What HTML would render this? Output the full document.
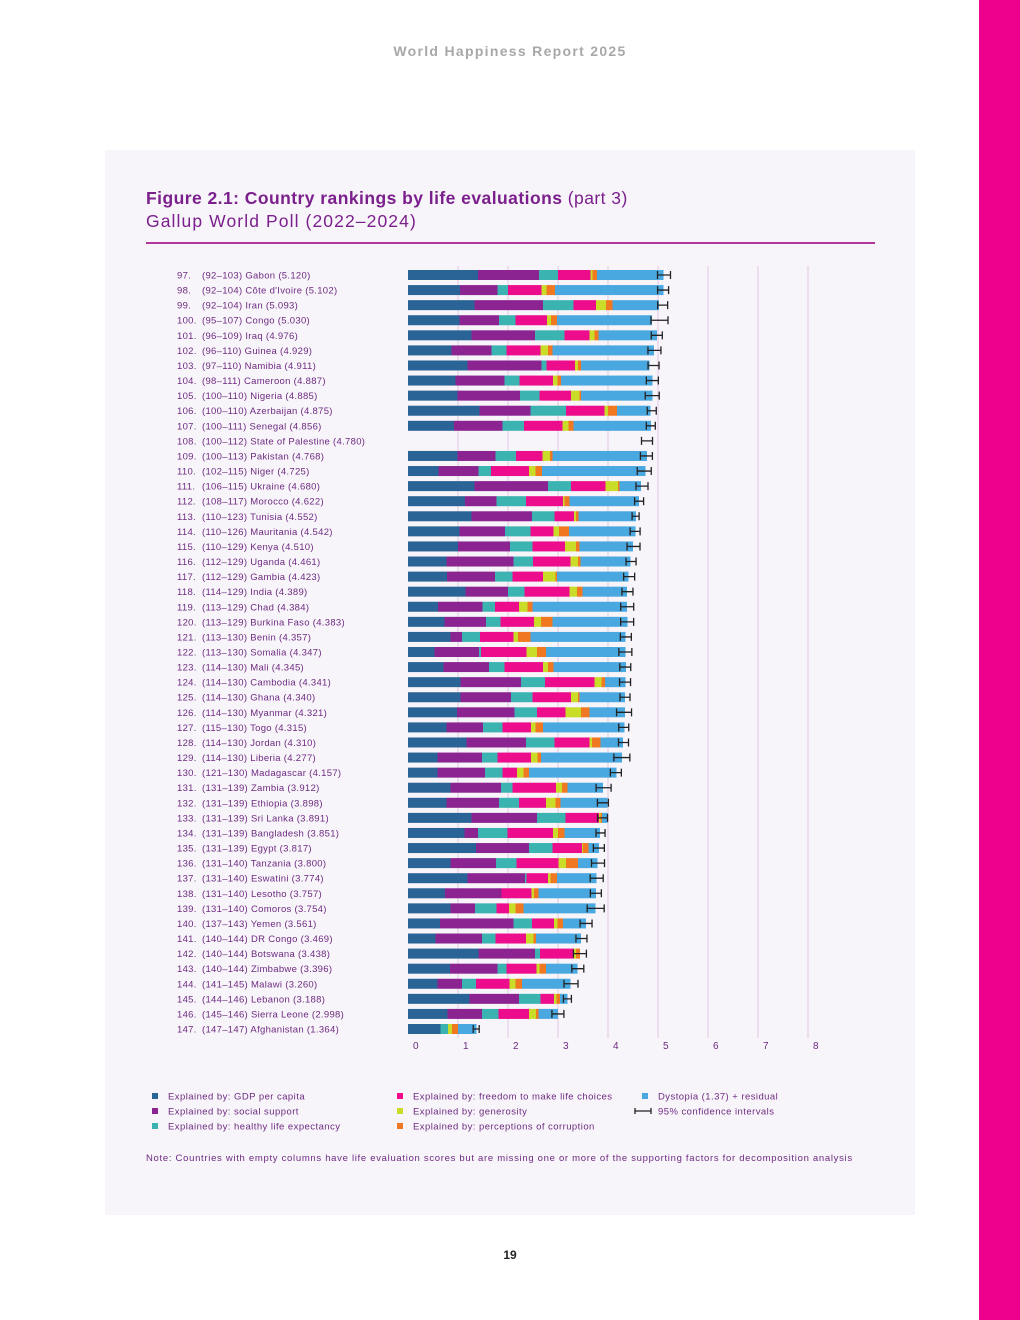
<!DOCTYPE html>
<html><head><meta charset="utf-8"><style>
body{margin:0;width:1020px;height:1320px;background:#fff;position:relative;overflow:hidden;font-family:"Liberation Sans",sans-serif}
.abs{position:absolute}
</style></head><body>
<div class="abs" style="left:979px;top:0;width:41px;height:1320px;background:#ec008c"></div>
<div class="abs" style="left:0;width:1020px;top:43px;text-align:center;color:#a8a8a8;font-size:14px;font-weight:bold;letter-spacing:1.3px">World Happiness Report 2025</div>
<div class="abs" style="left:105px;top:150px;width:810px;height:1065px;background:#f7f5fa"></div>
<div class="abs" style="left:146px;top:188px;font-size:17.5px;color:#7b1f8c;letter-spacing:0.45px;white-space:nowrap"><b>Figure 2.1: Country rankings by life evaluations</b> (part 3)</div>
<div class="abs" style="left:146px;top:211px;font-size:17.5px;color:#7b1f8c;letter-spacing:1.1px;white-space:nowrap">Gallup World Poll (2022–2024)</div>
<div class="abs" style="left:146px;top:242px;width:729px;height:2px;background:#b0369a"></div>
<svg class="abs" id="chart" style="left:0;top:0" width="1020" height="1320"></svg>
<div class="abs" style="left:0;width:1020px;top:1248px;text-align:center;font-size:12px;font-weight:bold;color:#222">19</div>
<script>
const ranks=[97,98,99,100,101,102,103,104,105,106,107,108,109,110,111,112,113,114,115,116,117,118,119,120,121,122,123,124,125,126,127,128,129,130,131,132,133,134,135,136,137,138,139,140,141,142,143,144,145,146,147];
const ranges=["92–103","92–104","92–104","95–107","96–109","96–110","97–110","98–111","100–110","100–110","100–111","100–112","100–113","102–115","106–115","108–117","110–123","110–126","110–129","112–129","112–129","114–129","113–129","113–129","113–130","113–130","114–130","114–130","114–130","114–130","115–130","114–130","114–130","121–130","131–139","131–139","131–139","131–139","131–139","131–140","131–140","131–140","131–140","137–143","140–144","140–144","140–144","141–145","144–146","145–146","147–147"];
const countries=["Gabon","Côte d'Ivoire","Iran","Congo","Iraq","Guinea","Namibia","Cameroon","Nigeria","Azerbaijan","Senegal","State of Palestine","Pakistan","Niger","Ukraine","Morocco","Tunisia","Mauritania","Kenya","Uganda","Gambia","India","Chad","Burkina Faso","Benin","Somalia","Mali","Cambodia","Ghana","Myanmar","Togo","Jordan","Liberia","Madagascar","Zambia","Ethiopia","Sri Lanka","Bangladesh","Egypt","Tanzania","Eswatini","Lesotho","Comoros","Yemen","DR Congo","Botswana","Zimbabwe","Malawi","Lebanon","Sierra Leone","Afghanistan"];
const scores=[5.120,5.102,5.093,5.030,4.976,4.929,4.911,4.887,4.885,4.875,4.856,4.780,4.768,4.725,4.680,4.622,4.552,4.542,4.510,4.461,4.423,4.389,4.384,4.383,4.357,4.347,4.345,4.341,4.340,4.321,4.315,4.310,4.277,4.157,3.912,3.898,3.891,3.851,3.817,3.800,3.774,3.757,3.754,3.561,3.469,3.438,3.396,3.260,3.188,2.998,1.364];
const gdp=[1.40,1.04,1.33,1.03,1.27,0.87,1.19,0.95,0.99,1.43,0.92,0,0.99,0.61,1.33,1.14,1.27,1.03,1.00,0.77,0.78,1.15,0.60,0.73,0.85,0.53,0.71,1.05,1.05,0.98,0.77,1.17,0.59,0.59,0.85,0.77,1.27,1.13,1.36,0.85,1.19,0.74,0.85,0.64,0.55,1.41,0.84,0.59,1.23,0.79,0.65];
const social=[1.22,0.75,1.37,0.79,1.27,0.80,1.48,0.98,1.25,1.02,0.97,0,0.76,0.80,1.47,0.63,1.21,0.91,1.04,1.34,0.96,0.85,0.89,0.83,0.23,0.89,0.91,1.21,1.01,1.15,0.73,1.19,0.89,0.95,1.01,1.05,1.31,0.27,1.06,0.91,1.15,1.13,0.49,1.47,0.93,1.13,0.95,0.49,0.99,0.69,0];
const health=[0.38,0.21,0.61,0.33,0.59,0.30,0.10,0.30,0.39,0.71,0.43,0,0.41,0.25,0.46,0.59,0.45,0.51,0.45,0.39,0.35,0.33,0.25,0.29,0.36,0.04,0.31,0.48,0.43,0.45,0.39,0.57,0.31,0.35,0.23,0.40,0.57,0.59,0.47,0.41,0.03,0,0.43,0.37,0.27,0.10,0.18,0.28,0.43,0.33,0.15];
const freedom=[0.65,0.67,0.45,0.63,0.50,0.68,0.57,0.67,0.63,0.77,0.77,0,0.53,0.76,0.69,0.74,0.39,0.46,0.65,0.75,0.61,0.90,0.48,0.67,0.67,0.91,0.77,0.99,0.77,0.57,0.57,0.70,0.67,0.29,0.87,0.54,0.67,0.91,0.59,0.84,0.43,0.60,0.25,0.44,0.61,0.68,0.60,0.67,0.27,0.61,0];
const generosity=[0.04,0.10,0.20,0.08,0.10,0.15,0.06,0.09,0.17,0.07,0.12,0,0.15,0.13,0.25,0.03,0.04,0.11,0.22,0.15,0.25,0.15,0.17,0.14,0.09,0.21,0.10,0.14,0.14,0.31,0.09,0.05,0.13,0.13,0.12,0.19,0.03,0.10,0.02,0.15,0.05,0.05,0.13,0.07,0.15,0.04,0.06,0.12,0.05,0.14,0.08];
const corruption=[0.09,0.17,0.13,0.12,0.08,0.09,0.06,0.07,0.03,0.18,0.10,0,0.05,0.13,0.03,0.10,0.05,0.20,0.07,0.05,0.03,0.11,0.10,0.23,0.25,0.18,0.11,0.07,0.03,0.17,0.15,0.17,0.07,0.11,0.11,0.10,0.03,0.13,0.11,0.24,0.13,0.09,0.16,0.11,0.05,0.08,0.13,0.13,0.07,0.05,0.12];
const dystopia=[1.33,2.17,0.93,1.90,1.17,2.03,1.37,1.83,1.43,0.67,1.55,0,1.89,2.07,0.43,1.39,1.15,1.33,1.07,1.00,1.43,0.89,1.89,1.50,1.90,1.59,1.45,0.41,0.91,0.71,1.63,0.45,1.62,1.75,0.71,0.94,0.11,0.71,0.21,0.39,0.79,1.15,1.44,0.46,0.90,0,0.63,0.97,0.15,0.39,0.37];
const ciHalf=[0.13,0.11,0.10,0.17,0.11,0.13,0.11,0.12,0.14,0.09,0.09,0.11,0.12,0.14,0.12,0.09,0.07,0.10,0.13,0.10,0.11,0.11,0.13,0.13,0.11,0.13,0.11,0.11,0.10,0.15,0.10,0.10,0.16,0.11,0.15,0.11,0.10,0.09,0.11,0.13,0.13,0.11,0.17,0.12,0.11,0.13,0.12,0.14,0.08,0.12,0.06];
const ticks=[0,1,2,3,4,5,6,7,8];
const series=[gdp,social,health,freedom,generosity,corruption,dystopia];
const seriesNames=["gdp","social-support","health","freedom","generosity","corruption","dystopia"];
const colors=["#2a6496","#8b2390","#3bb3b0","#ec0c8c","#c8dc28","#f07820","#4aa8e0"];
const legendText=["Explained by: GDP per capita","Explained by: social support","Explained by: healthy life expectancy","Explained by: freedom to make life choices","Explained by: generosity","Explained by: perceptions of corruption","Dystopia (1.37) + residual"];

const NS="http://www.w3.org/2000/svg";
const svg=document.getElementById('chart');
const X0=408, UNIT=50, Y0=275, ROW=15.08, BH=10;
const xs=v=>X0+v*UNIT;
const ys=i=>Y0+i*ROW;
function mk(t,a){const e=document.createElementNS(NS,t);for(const k in a)e.setAttribute(k,a[k]);svg.appendChild(e);return e;}
const TXT="#6e2a80";
ticks.forEach(t=>{
  if(t>0){const g=mk('line',{x1:xs(t),x2:xs(t),y1:266,y2:1038,stroke:'#e2c8e2','stroke-width':1});
  
  }
  const l=mk('text',{x:xs(t)+5,y:1049,'font-size':10,fill:TXT,'text-anchor':'start'});
  l.textContent=t;
  
  
});
ranks.forEach((r,i)=>{
  const y=ys(i);
  const a=mk('text',{x:177,y:y+3.5,'font-size':9.5,fill:TXT,'letter-spacing':0.3});
  a.textContent=r+'.';
  
  
  const b=mk('text',{x:202,y:y+3.5,'font-size':9.5,fill:TXT,'letter-spacing':0.3});
  b.textContent='('+ranges[i]+') '+countries[i]+' ('+scores[i].toFixed(3)+')';
  
  
  let c=0;
  series.forEach((s,k)=>{
    const v=s[i]; if(v<=0)return;
    const rc=mk('rect',{x:xs(c),y:y-BH/2,width:v*UNIT,height:BH,fill:colors[k]});
    
    
    c+=v;
  });
  const lo=xs(scores[i]-ciHalf[i]),hi=xs(scores[i]+ciHalf[i]);
  const ci=mk('path',{d:`M${lo},${y-4}V${y+4}M${hi},${y-4}V${y+4}M${lo},${y}H${hi}`,stroke:'#222','stroke-width':1.3,fill:'none'});
  
  
});
const lx=[152,152,152,397,397,397,642], ly=[1096,1111,1126,1096,1111,1126,1096];
legendText.forEach((t,k)=>{
  const s=mk('rect',{x:lx[k],y:ly[k]-3,width:6,height:6,fill:colors[k]});
  
  
  const tx=mk('text',{x:lx[k]+16,y:ly[k]+3.5,'font-size':9.5,fill:TXT,'letter-spacing':0.45});
  tx.textContent=t;
  
  
});
const cl=mk('path',{d:'M635,1108V1114M651,1108V1114M635,1111H651',stroke:'#222','stroke-width':1.3});


const ct=mk('text',{x:658,y:1114.5,'font-size':9.5,fill:TXT,'letter-spacing':0.45});
ct.textContent='95% confidence intervals';


const note=mk('text',{x:146,y:1161,'font-size':9.5,fill:TXT,'letter-spacing':0.7});
note.textContent='Note: Countries with empty columns have life evaluation scores but are missing one or more of the supporting factors for decomposition analysis';


</script>
</body></html>
